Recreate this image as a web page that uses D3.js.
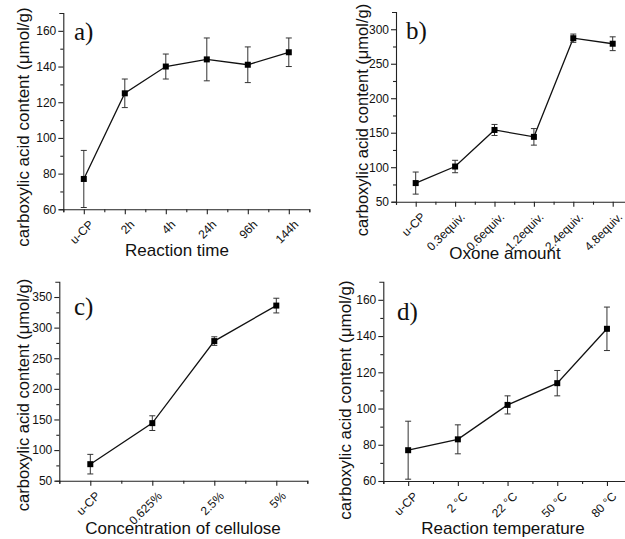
<!DOCTYPE html>
<html>
<head>
<meta charset="utf-8">
<script src="https://cdn.jsdelivr.net/npm/d3@7"></script>
<style>
  html, body { margin: 0; padding: 0; background: #fff; }
  svg { display: block; }
  text { font-family: Arial, "Liberation Sans", sans-serif; fill: #111; }
  .panel-label { font-family: "Times New Roman", "Liberation Serif", serif; }
</style>
</head>
<body>
<svg id="chart" width="625" height="539"></svg>
<script>
// a) reaction time series
const timeCategories = ["u-CP", "2h", "4h", "24h", "96h", "144h"];
const timeValues = [77, 125, 140, 144, 141, 148];
const timeErrors = [16, 8, 7, 12, 10, 8];
const timeTicks = [60, 80, 100, 120, 140, 160];

// b) oxone amount series
const oxoneCategories = ["u-CP", "0.3equiv.", "0.6equiv.", "1.2equiv.", "2.4equiv.", "4.8equiv."];
const oxoneValues = [77, 101, 154, 144, 287, 279];
const oxoneErrors = [16, 9, 8, 12, 6, 10];
const oxoneTicks = [50, 100, 150, 200, 250, 300];

// c) cellulose concentration series
const celluloseCategories = ["u-CP", "0.625%", "2.5%", "5%"];
const celluloseValues = [77, 144, 278, 336];
const celluloseErrors = [16, 12, 7, 12];
const celluloseTicks = [50, 100, 150, 200, 250, 300, 350];

// d) reaction temperature series
const tempCategories = ["u-CP", "2 \u00B0C", "22 \u00B0C", "50 \u00B0C", "80 \u00B0C"];
const tempValues = [77, 83, 102, 114, 144];
const tempErrors = [16, 8, 5, 7, 12];
const tempTicks = [60, 80, 100, 120, 140, 160];

const yTitle = "carboxylic acid content (\u03BCmol/g)";

const svg = d3.select("#chart");

const panels = [
  { label: "a)", cats: timeCategories, vals: timeValues, errs: timeErrors, ticks: timeTicks,
    yDomain: [60, 170], x0: 63.3, x1: 309.3, y0: 13, y1: 209.3,
    xTitle: "Reaction time", xTitleX: 177, xTitleY: 256, yTitleX: 29, yTitleY: 127, yTitleSize: 17,
    labelX: 74, labelY: 40 },
  { label: "b)", cats: oxoneCategories, vals: oxoneValues, errs: oxoneErrors, ticks: oxoneTicks,
    yDomain: [50, 325], x0: 396, x1: 632.4, y0: 12, y1: 201.7,
    xTitle: "Oxone amount", xTitleX: 505, xTitleY: 259, yTitleX: 368, yTitleY: 120, yTitleSize: 16.5,
    labelX: 406, labelY: 39 },
  { label: "c)", cats: celluloseCategories, vals: celluloseValues, errs: celluloseErrors, ticks: celluloseTicks,
    yDomain: [50, 375], x0: 59.3, x1: 307.3, y0: 281.7, y1: 480.7,
    xTitle: "Concentration of cellulose", xTitleX: 183, xTitleY: 534, yTitleX: 29, yTitleY: 395, yTitleSize: 16.5,
    labelX: 74, labelY: 315 },
  { label: "d)", cats: tempCategories, vals: tempValues, errs: tempErrors, ticks: tempTicks,
    yDomain: [60, 170], x0: 383.3, x1: 631.8, y0: 281.7, y1: 481,
    xTitle: "Reaction temperature", xTitleX: 503, xTitleY: 534, yTitleX: 351, yTitleY: 400, yTitleSize: 17,
    labelX: 397, labelY: 320 }
];

panels.forEach(p => {
  const n = p.cats.length;
  const x = d3.scaleLinear().domain([0.5, n + 0.5]).range([p.x0, p.x1]);
  const y = d3.scaleLinear().domain(p.yDomain).range([p.y1, p.y0]);
  const g = svg.append("g");

  // minor ticks halfway between categories
  const xMinor = d3.range(0, n + 1).map(i => i + 0.5);
  g.append("g").attr("transform", `translate(0,${p.y1})`)
    .call(d3.axisBottom(x).tickValues(xMinor).tickSize(3).tickSizeOuter(0).tickFormat(""))
    .call(s => s.select(".domain").remove());
  const step = p.ticks[1] - p.ticks[0];
  const yMinor = d3.range(p.yDomain[0] + step / 2, p.yDomain[1], step);
  g.append("g").attr("transform", `translate(${p.x0},0)`)
    .call(d3.axisLeft(y).tickValues(yMinor).tickSize(3).tickSizeOuter(0).tickFormat(""))
    .call(s => s.select(".domain").remove());

  // x axis with category labels slanted at 45 degrees
  const xAxis = g.append("g").attr("transform", `translate(0,${p.y1})`)
    .call(d3.axisBottom(x).tickValues(d3.range(1, n + 1)).tickSize(5).tickSizeOuter(3)
      .tickFormat(i => p.cats[i - 1]));
  xAxis.selectAll(".tick text")
    .attr("font-size", 12)
    .attr("text-anchor", "end")
    .attr("x", 0).attr("y", 0).attr("dy", 0)
    .attr("transform", "translate(10,16) rotate(-45)");

  // y axis
  const yAxis = g.append("g").attr("transform", `translate(${p.x0},0)`)
    .call(d3.axisLeft(y).tickValues(p.ticks).tickSize(5).tickSizeOuter(4));
  yAxis.selectAll(".tick text").attr("font-size", 12).attr("x", -7);

  g.selectAll(".domain, .tick line").attr("stroke", "#222").attr("stroke-width", 1.1);
  g.selectAll(".tick text").attr("fill", "#111").attr("font-family", "Arial, 'Liberation Sans', sans-serif");

  // connecting line
  const line = d3.line().x((d, i) => x(i + 1)).y(d => y(d));
  g.append("path").datum(p.vals)
    .attr("fill", "none").attr("stroke", "#111").attr("stroke-width", 1.3)
    .attr("d", line);

  // error bars
  const eb = g.selectAll(".eb").data(p.vals).join("g").attr("class", "eb");
  eb.append("line")
    .attr("x1", (d, i) => x(i + 1)).attr("x2", (d, i) => x(i + 1))
    .attr("y1", (d, i) => y(d - p.errs[i])).attr("y2", (d, i) => y(d + p.errs[i]))
    .attr("stroke", "#333").attr("stroke-width", 1);
  [-1, 1].forEach(sgn => {
    eb.append("line")
      .attr("x1", (d, i) => x(i + 1) - 3).attr("x2", (d, i) => x(i + 1) + 3)
      .attr("y1", (d, i) => y(d + sgn * p.errs[i])).attr("y2", (d, i) => y(d + sgn * p.errs[i]))
      .attr("stroke", "#333").attr("stroke-width", 1);
  });

  // square markers
  g.selectAll(".pt").data(p.vals).join("rect").attr("class", "pt")
    .attr("x", (d, i) => x(i + 1) - 3).attr("y", d => y(d) - 3)
    .attr("width", 6).attr("height", 6).attr("fill", "#000");

  // titles
  g.append("text").attr("x", p.xTitleX).attr("y", p.xTitleY)
    .attr("text-anchor", "middle").attr("font-size", 17).text(p.xTitle);
  g.append("text")
    .attr("transform", `translate(${p.yTitleX},${p.yTitleY}) rotate(-90)`)
    .attr("text-anchor", "middle").attr("font-size", p.yTitleSize).text(yTitle);

  g.append("text").attr("class", "panel-label")
    .attr("x", p.labelX).attr("y", p.labelY)
    .attr("font-size", 25).text(p.label);
});
</script>
</body>
</html>
